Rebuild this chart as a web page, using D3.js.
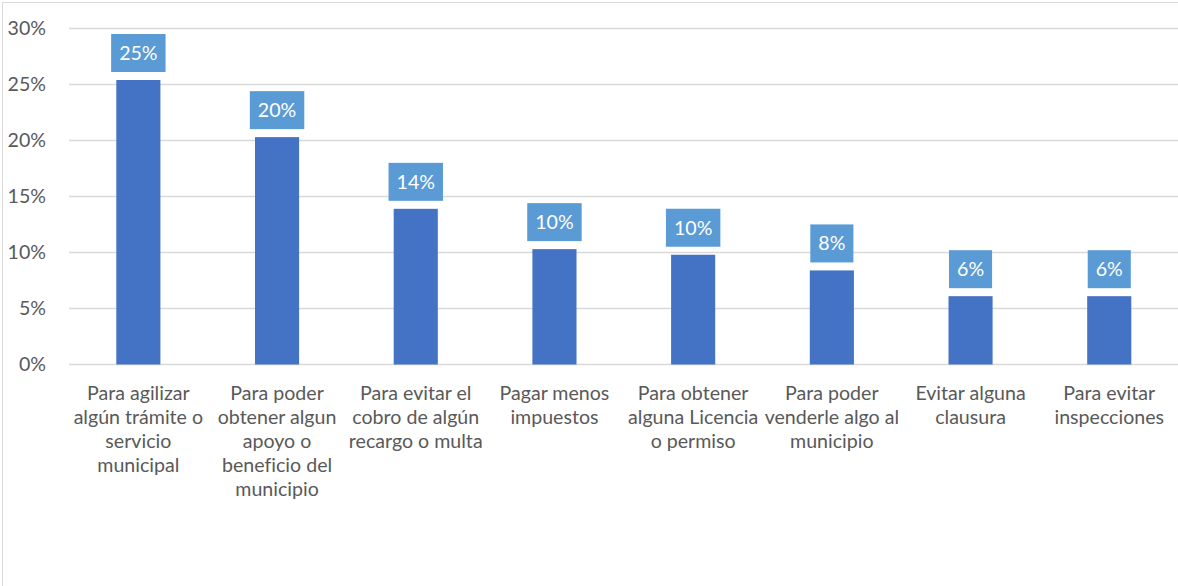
<!DOCTYPE html>
<html>
<head>
<meta charset="utf-8">
<script src="https://cdn.jsdelivr.net/npm/d3@7"></script>
<style>
  body { margin: 0; background: #fff; }
  svg { display: block; }
  text { font-variant-ligatures: none; }
</style>
</head>
<body>
<script>
var categories = [
    ["Para agilizar", "algún trámite o", "servicio", "municipal"],
    ["Para poder", "obtener algun", "apoyo o", "beneficio del", "municipio"],
    ["Para evitar el", "cobro de algún", "recargo o multa"],
    ["Pagar menos", "impuestos"],
    ["Para obtener", "alguna Licencia", "o permiso"],
    ["Para poder", "venderle algo al", "municipio"],
    ["Evitar alguna", "clausura"],
    ["Para evitar", "inspecciones"]
];
var values = [0.254, 0.203, 0.139, 0.103, 0.098, 0.084, 0.061, 0.061];
var yTicks = [0, 0.05, 0.10, 0.15, 0.20, 0.25, 0.30];

var W = 1178, H = 586;
var font = "Lato, 'Liberation Sans', sans-serif";
var fs = 19.6;

var svg = d3.select("body").append("svg")
    .attr("width", W)
    .attr("height", H);

// outer frame
svg.append("rect")
    .attr("x", 2.5).attr("y", 2.5)
    .attr("width", W + 10).attr("height", H + 10)
    .attr("fill", "none")
    .attr("stroke", "#d9d9d9")
    .attr("stroke-width", 1);

var x = d3.scaleBand()
    .domain(d3.range(categories.length))
    .range([69, 1178.6]);

var y = d3.scaleLinear()
    .domain([0, 0.30])
    .range([364.5, 28.5]);

var barW = x.bandwidth() * 0.318;

// gridlines
svg.append("g")
    .selectAll("line")
    .data(yTicks)
    .enter().append("line")
    .attr("x1", 69).attr("x2", W)
    .attr("y1", function (d) { return y(d); })
    .attr("y2", function (d) { return y(d); })
    .attr("stroke", "#d9d9d9")
    .attr("stroke-width", 1.3);

// y tick labels
svg.append("g")
    .selectAll("text")
    .data(yTicks)
    .enter().append("text")
    .attr("x", 46)
    .attr("y", function (d) { return y(d); })
    .attr("dy", "0.35em")
    .attr("text-anchor", "end")
    .attr("font-family", font)
    .attr("font-size", fs)
    .attr("fill", "#595959")
    .text(d3.format(".0%"));

// bars
svg.append("g")
    .selectAll("rect")
    .data(values)
    .enter().append("rect")
    .attr("x", function (d, i) { return x(i) + x.bandwidth() / 2 - barW / 2; })
    .attr("y", function (d) { return y(d); })
    .attr("width", barW)
    .attr("height", function (d) { return y(0) - y(d); })
    .attr("fill", "#4472c4");

// data labels in boxes
var lab = svg.append("g")
    .selectAll("g")
    .data(values)
    .enter().append("g")
    .attr("transform", function (d, i) {
        return "translate(" + (x(i) + x.bandwidth() / 2) + "," + (y(d) - 8) + ")";
    });

lab.append("text")
    .attr("x", 0)
    .attr("y", -19)
    .attr("dy", "0.35em")
    .attr("text-anchor", "middle")
    .attr("font-family", font)
    .attr("font-size", fs)
    .attr("fill", "#fff")
    .text(d3.format(".0%"));

lab.insert("rect", "text")
    .each(function () {
        var t = d3.select(this.parentNode).select("text").node().getBBox();
        d3.select(this)
            .attr("x", -t.width / 2 - 8)
            .attr("y", -38)
            .attr("width", t.width + 16)
            .attr("height", 38);
    })
    .attr("fill", "#5b9bd5");

// category labels
var cat = svg.append("g")
    .selectAll("text")
    .data(categories)
    .enter().append("text")
    .attr("x", function (d, i) { return x(i) + x.bandwidth() / 2; })
    .attr("y", 393)
    .attr("text-anchor", "middle")
    .attr("font-family", font)
    .attr("font-size", fs)
    .attr("fill", "#595959");

cat.selectAll("tspan")
    .data(function (d) { return d; })
    .enter().append("tspan")
    .attr("x", function () { return d3.select(this.parentNode).attr("x"); })
    .attr("y", function (d, j) { return 393 + j * 24; })
    .attr("dy", "0.35em")
    .text(function (d) { return d; });
</script>
</body>
</html>
